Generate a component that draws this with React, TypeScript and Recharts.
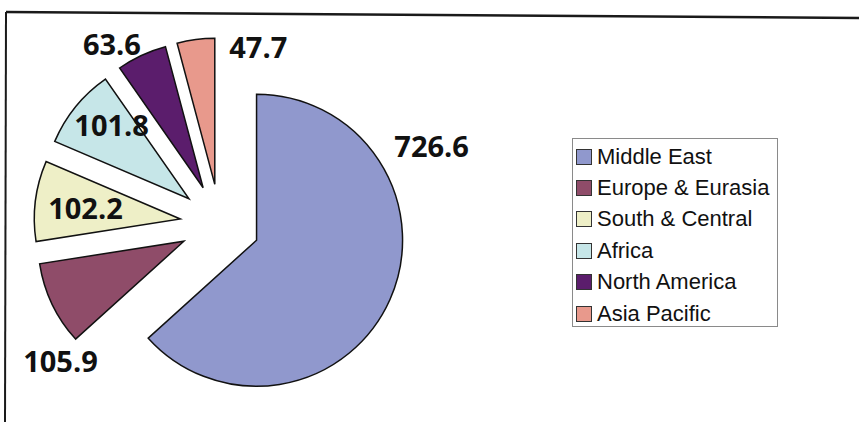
import { PieChart, Pie, Cell, Legend, Sector } from 'recharts';

const regions = ['Middle East', 'Europe & Eurasia', 'South & Central', 'Africa', 'North America', 'Asia Pacific'];
const reserves = [726.6, 105.9, 102.2, 101.8, 63.6, 47.7];
const colors = ['#9098cd', '#8f4c69', '#eeefc7', '#c6e6e8', '#5b1d6c', '#e8998c'];

// label nudges (px) from a point on the slice's mid angle, to match the original placement
const labelNudge = [[38, -156], [12, 55], [54, 7], [39, 20], [-28, -8], [63, 11]];

const data = regions.map((name, i) => ({ name, value: reserves[i] }));

const EXPLODE = 40;
const RAD = Math.PI / 180;

const ExplodedSector = (props: any) => {
  const a = -props.midAngle * RAD;
  return (
    <Sector
      {...props}
      cx={props.cx + EXPLODE * Math.cos(a)}
      cy={props.cy + EXPLODE * Math.sin(a)}
    />
  );
};

const renderLabel = (props: any) => {
  const { cx, cy, midAngle, index, value } = props;
  const a = -midAngle * RAD;
  const x = cx + 190 * Math.cos(a) + labelNudge[index][0];
  const y = cy + 190 * Math.sin(a) + labelNudge[index][1];
  return (
    <text x={x} y={y} textAnchor="middle" dominantBaseline="central"
      fontFamily="'Open Sans', sans-serif" fontWeight={700} fontSize={29} fill="#111">
      {value}
    </text>
  );
};

const LegendBox = (props: any) => {
  // keep the series order, not alphabetical
  const payload = [...(props.payload || [])].sort(
    (a: any, b: any) => regions.indexOf(a.value) - regions.indexOf(b.value)
  );
  return (
    <div style={{ width: 206, height: 189, border: '1.5px solid #8a8a8a', background: '#fff', paddingTop: 2, boxSizing: 'border-box' }}>
      {payload.map((p: any, i: number) => (
        <div key={i} style={{ height: 31.4, display: 'flex', alignItems: 'center', paddingLeft: 3 }}>
          <span style={{ width: 14, height: 14, background: p.color, border: '1px solid #333', display: 'inline-block', marginRight: 5, flexShrink: 0 }} />
          <span style={{ fontFamily: "'Liberation Sans', Arial, sans-serif", fontSize: 22, color: '#111', whiteSpace: 'nowrap' }}>{p.value}</span>
        </div>
      ))}
    </div>
  );
};

export default function App() {
  return (
    <div style={{ position: 'absolute', left: 0, top: 0, width: 859, height: 422, background: '#fff', overflow: 'hidden' }}>
      <svg width={859} height={422} style={{ position: 'absolute', left: 0, top: 0 }}>
        <line x1={6} y1={12} x2={859} y2={18} stroke="#1a1a1a" strokeWidth={2.5} />
        <line x1={6} y1={12} x2={5} y2={422} stroke="#1a1a1a" strokeWidth={2} />
      </svg>
      <div style={{ position: 'absolute', left: 0, top: 0 }}>
        <PieChart width={859} height={422} margin={{ top: 0, right: 0, bottom: 0, left: 0 }}>
          <Pie
            data={data}
            dataKey="value"
            nameKey="name"
            cx={220}
            cy={224}
            outerRadius={146}
            startAngle={90}
            endAngle={-270}
            stroke="#111"
            strokeWidth={1.5}
            shape={ExplodedSector}
            activeShape={ExplodedSector}
            inactiveShape={ExplodedSector}
            label={renderLabel}
            labelLine={false}
            isAnimationActive={false}
          >
            {data.map((d, i) => (
              <Cell key={d.name} fill={colors[i]} />
            ))}
          </Pie>
          <Legend
            layout="vertical"
            align="right"
            verticalAlign="top"
            content={LegendBox}
            wrapperStyle={{ left: 572, top: 138, width: 206 }}
          />
        </PieChart>
      </div>
    </div>
  );
}
